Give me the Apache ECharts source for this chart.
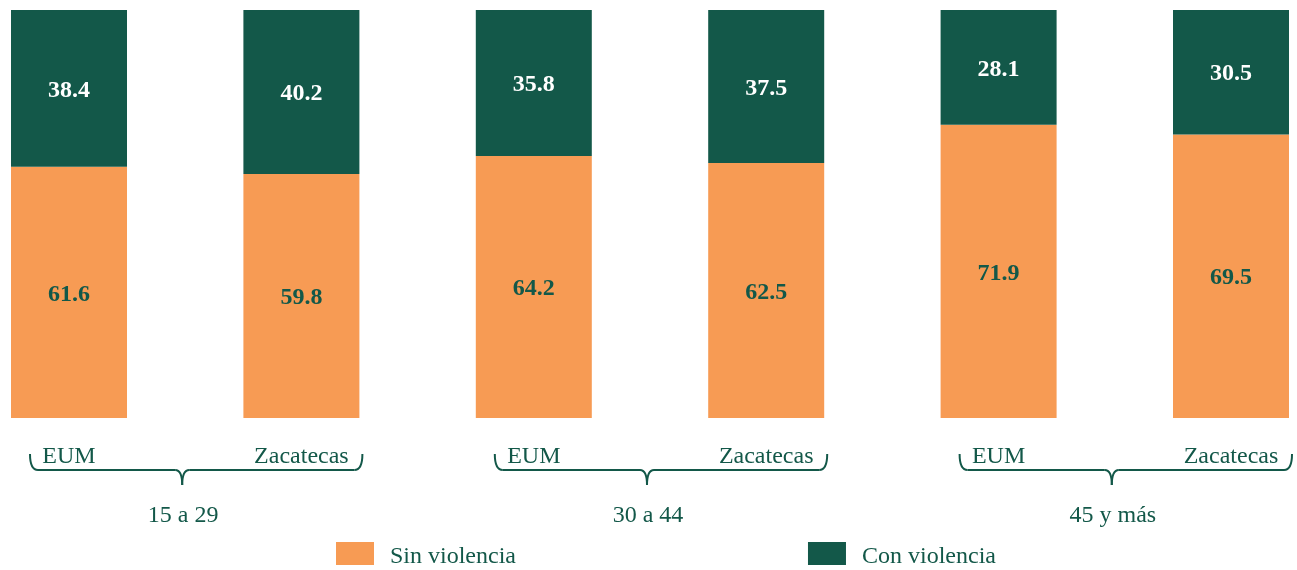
<!DOCTYPE html>
<html>
<head>
<meta charset="utf-8">
<script src="https://cdn.jsdelivr.net/npm/echarts@6/dist/echarts.min.js"></script>
<style>
  html, body { margin: 0; padding: 0; background: #fff; }
  #grafiek { width: 1297px; height: 570px; }
</style>
</head>
<body>
<div id="grafiek"></div>
<script>
// data
let categorieen = ['EUM', 'Zacatecas', 'EUM', 'Zacatecas', 'EUM', 'Zacatecas'];
let groepen = ['15 a 29', '30 a 44', '45 y más'];
let sinViolencia = [61.6, 59.8, 64.2, 62.5, 71.9, 69.5];
let conViolencia = [38.4, 40.2, 35.8, 37.5, 28.1, 30.5];

let oranje = '#F79B54';
let groen = '#135849';
let lettertype = '"Liberation Serif", "Times New Roman", serif';

function toonGrafiek() {
    let grafiek = echarts.init(document.getElementById('grafiek'));
    let option = {
        backgroundColor: '#ffffff',
        animation: false,
        textStyle: { fontFamily: lettertype },
        grid: { left: 69, right: 66, top: 10, height: 408 },
        legend: {
            data: ['Sin violencia', 'Con violencia'],
            left: 336,
            top: 542,
            padding: 0,
            icon: 'rect',
            itemWidth: 38,
            itemHeight: 23,
            itemGap: 292,
            formatter: '{t|{name}}',
            textStyle: {
                color: groen, fontSize: 24, fontFamily: lettertype,
                rich: { t: { color: groen, fontSize: 24, fontFamily: lettertype, padding: [7, 0, 0, 11] } }
            }
        },
        xAxis: {
            type: 'category',
            data: categorieen,
            boundaryGap: false,
            axisLine: { show: false },
            axisTick: { show: false },
            splitLine: { show: false },
            axisLabel: { color: groen, fontSize: 24, fontFamily: lettertype, margin: 27, interval: 0 }
        },
        yAxis: { type: 'value', min: 0, max: 100, show: false },
        series: [
            {
                name: 'Sin violencia',
                type: 'bar',
                stack: 'totaal',
                barWidth: 116,
                clip: false,
                itemStyle: { color: oranje },
                label: { show: true, position: 'inside', offset: [0, 2], color: groen, fontSize: 24, fontWeight: 'bold', fontFamily: lettertype },
                data: sinViolencia
            },
            {
                name: 'Con violencia',
                type: 'bar',
                stack: 'totaal',
                barWidth: 116,
                clip: false,
                itemStyle: { color: groen },
                label: { show: true, position: 'inside', offset: [0, 2], color: '#ffffff', fontSize: 24, fontWeight: 'bold', fontFamily: lettertype },
                data: conViolencia
            }
        ]
    };
    grafiek.setOption(option);

    // accolades en groepsnamen onder elke groep
    let extra = [];
    let lijn = { stroke: groen, lineWidth: 2, fill: null };
    for (let g = 0; g < groepen.length; g++) {
        let x1 = grafiek.convertToPixel({ xAxisIndex: 0 }, g * 2);
        let x2 = grafiek.convertToPixel({ xAxisIndex: 0 }, g * 2 + 1);
        let xl = x1 - 39, xr = x2 + 61, xm = (x1 + x2) / 2 - 3;
        let yt = 454, yl = 470, yp = 485;
        extra.push(
            { type: 'bezierCurve', shape: { x1: xl, y1: yt, x2: xl + 8, y2: yl, cpx1: xl, cpy1: yl }, style: lijn },
            { type: 'line', shape: { x1: xl + 8, y1: yl, x2: xm - 7, y2: yl }, style: lijn },
            { type: 'bezierCurve', shape: { x1: xm - 7, y1: yl, x2: xm, y2: yp, cpx1: xm, cpy1: yl }, style: lijn },
            { type: 'bezierCurve', shape: { x1: xm, y1: yp, x2: xm + 7, y2: yl, cpx1: xm, cpy1: yl }, style: lijn },
            { type: 'line', shape: { x1: xm + 7, y1: yl, x2: xr - 8, y2: yl }, style: lijn },
            { type: 'bezierCurve', shape: { x1: xr - 8, y1: yl, x2: xr, y2: yt, cpx1: xr, cpy1: yl }, style: lijn },
            {
                type: 'text',
                x: xm + 1, y: 516,
                style: { text: groepen[g], fill: groen, font: '24px ' + lettertype, textAlign: 'center', textVerticalAlign: 'middle' }
            }
        );
    }
    grafiek.setOption({ graphic: extra });
}

window.onload = function () {
    if (document.getElementById('grafiek')) {
        toonGrafiek();
    } else {
        console.error("Element #grafiek niet gevonden!");
    }
};
</script>
</body>
</html>
